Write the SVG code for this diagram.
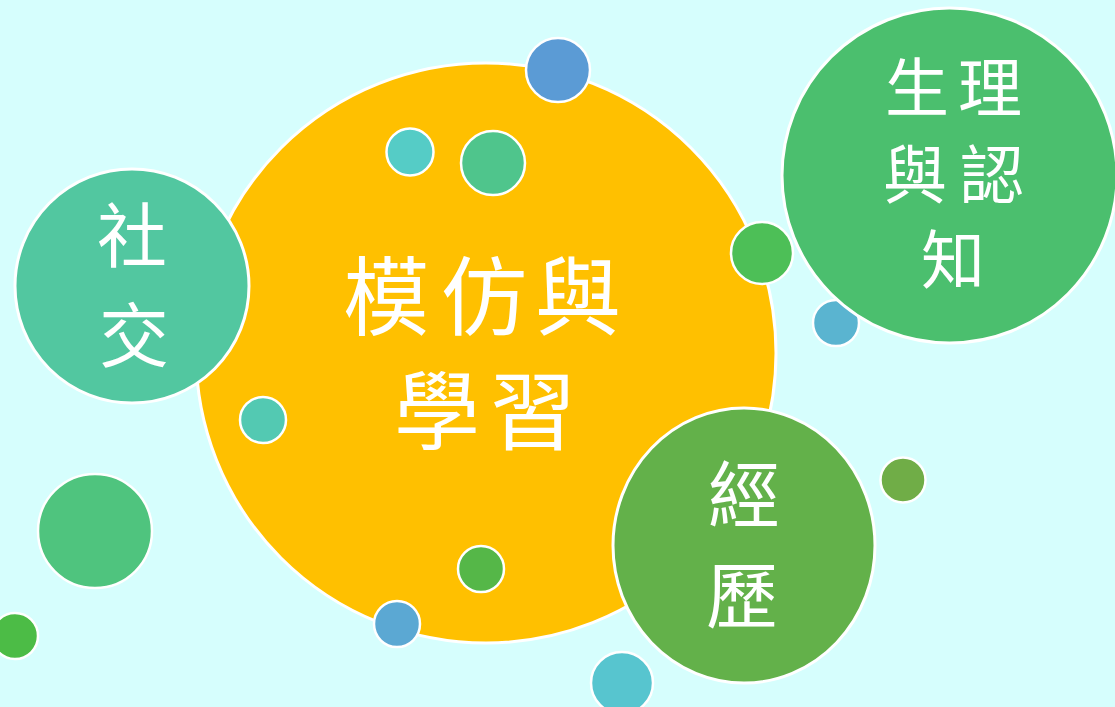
<svg xmlns="http://www.w3.org/2000/svg" width="1115" height="707" viewBox="0 0 1115 707">
  <style>
    .b { stroke: #FFFFFF; stroke-width: 3; }
    .s { stroke: #FFFFFF; stroke-width: 2.5; }
    .t { fill: #FFFFFF; font-family: "Noto Sans CJK TC", "Noto Sans CJK SC", sans-serif; font-weight: 400; text-anchor: middle; }
  </style>
  <rect width="1115" height="707" fill="#D6FEFD"/>
  <g id="bubbles-back">
    <circle class="s" cx="836" cy="323" r="23" fill="#5AB4D0"/>
  </g>
  <g id="node-main">
    <circle class="b" cx="486" cy="353" r="290" fill="#FFC000"/>
  </g>
  <g id="bubbles-mid">
    <circle class="s" cx="558" cy="70" r="32" fill="#5B9BD5"/>
    <circle class="s" cx="410" cy="152" r="23.5" fill="#55CCC6"/>
    <circle class="s" cx="493" cy="163" r="32" fill="#4FC58C"/>
    <circle class="s" cx="762" cy="253" r="31" fill="#4DBF57"/>
    <circle class="s" cx="263" cy="420" r="23" fill="#53C9B2"/>
    <circle class="s" cx="481" cy="569" r="23" fill="#55B748"/>
    <circle class="s" cx="397" cy="624" r="23" fill="#5BA8D3"/>
  </g>
  <g id="node-social">
    <circle class="b" cx="132" cy="286" r="117" fill="#52C7A0"/>
  </g>
  <g id="node-physio">
    <circle class="b" cx="949.5" cy="175.5" r="167.5" fill="#4BBF6E"/>
  </g>
  <g id="node-exp">
    <ellipse class="b" cx="744" cy="545.5" rx="131" ry="137.5" fill="#63B14A"/>
  </g>
  <g id="bubbles-front">
    <circle class="s" cx="903" cy="480" r="22.5" fill="#70AD47"/>
    <circle class="s" cx="95" cy="531" r="57" fill="#4FC47E"/>
    <circle class="s" cx="622" cy="683" r="31" fill="#57C5CF"/>
    <circle class="s" cx="15" cy="636" r="23" fill="#4CBC46"/>
  </g>
  <g id="labels">
    <text class="t" font-size="86" x="386 484 578" y="329">模仿與</text>
    <text class="t" font-size="86" x="437 533" y="443">學習</text>
    <text class="t" font-size="70" x="132" y="262">社</text>
    <text class="t" font-size="70" x="134" y="362">交</text>
    <text class="t" font-size="64" x="917 990" y="111">生理</text>
    <text class="t" font-size="64" x="915 992" y="198">與認</text>
    <text class="t" font-size="64" x="953" y="283">知</text>
    <text class="t" font-size="72" x="744" y="521">經</text>
    <text class="t" font-size="72" x="742" y="622">歷</text>
  </g>
</svg>
